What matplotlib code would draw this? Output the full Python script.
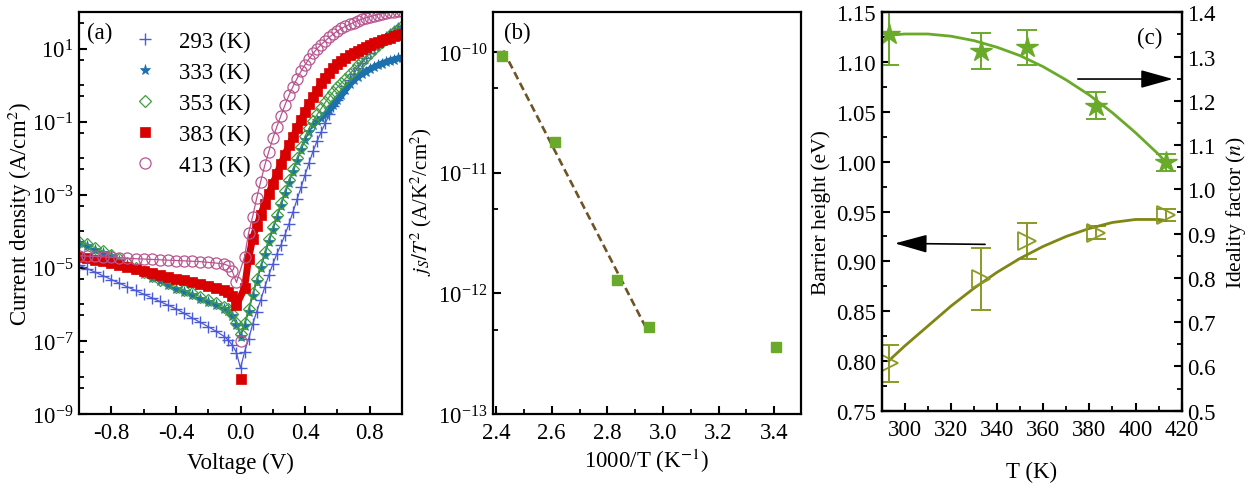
import numpy as np
import matplotlib
matplotlib.use("Agg")
import matplotlib.pyplot as plt
from matplotlib.ticker import (FixedLocator, MultipleLocator, NullFormatter,
                               LogFormatterMathtext)

plt.rcParams.update({
    "font.family": "Liberation Serif",
    "mathtext.fontset": "stix",
    "font.size": 16.5,
    "axes.linewidth": 1.6,
    "xtick.direction": "in", "ytick.direction": "in",
    "xtick.major.size": 6, "ytick.major.size": 6,
    "xtick.minor.size": 3.5, "ytick.minor.size": 3.5,
    "xtick.major.width": 1.5, "ytick.major.width": 1.5,
    "xtick.minor.width": 1.3, "ytick.minor.width": 1.3,
    "xtick.major.pad": 6, "ytick.major.pad": 4,
})

# ---- (a) J-V curves: voltage sweep and log10 of current density (A/cm^2)
V = np.round(np.concatenate([np.arange(-1.0, -0.099, 0.05),
                             [-0.075, -0.05, -0.025, 0.0],
                             np.arange(0.025, 1.0001, 0.025)]), 3)

LOGJ_293 = [-4.93, -5.02, -5.12, -5.22, -5.32, -5.42, -5.52, -5.62, -5.72, -5.82,
            -5.92, -6.02, -6.12, -6.24, -6.37, -6.49, -6.61, -6.74, -6.88,
            -6.98, -7.12, -7.32, -7.75,
            -7.30, -6.95, -6.55, -6.20, -5.88, -5.53, -5.20, -4.90, -4.62, -4.38,
            -4.10, -3.80, -3.47, -3.13, -2.80, -2.45, -2.12, -1.80, -1.52, -1.28,
            -1.04, -0.80, -0.58, -0.40, -0.22, -0.03, 0.14, 0.31, 0.46, 0.60,
            0.74, 0.87, 0.99, 1.11, 1.22, 1.32, 1.41, 1.49, 1.56, 1.62]
LOGJ_333 = [-4.33, -4.41, -4.50, -4.59, -4.69, -4.81, -4.93, -5.05, -5.17, -5.27,
            -5.37, -5.47, -5.57, -5.66, -5.75, -5.84, -5.93, -6.02, -6.12,
            -6.18, -6.31, -6.56, -6.88,
            -6.58, -6.20, -5.78, -5.38, -5.01, -4.65, -4.30, -3.96, -3.63, -3.30,
            -2.98, -2.68, -2.38, -2.08, -1.78, -1.50, -1.28, -1.10, -0.98, -0.90,
            -0.80, -0.68, -0.54, -0.42, -0.28, -0.13, 0.02, 0.13, 0.22, 0.30,
            0.37, 0.43, 0.49, 0.54, 0.59, 0.63, 0.67, 0.70, 0.73, 0.75]
LOGJ_353 = [-4.28, -4.36, -4.45, -4.54, -4.64, -4.76, -4.88, -5.00, -5.12, -5.22,
            -5.32, -5.42, -5.52, -5.61, -5.70, -5.79, -5.88, -5.97, -6.07,
            -6.13, -6.25, -6.50, -6.80,
            -6.50, -6.12, -5.70, -5.30, -4.93, -4.57, -4.22, -3.88, -3.55, -3.22,
            -2.90, -2.60, -2.30, -2.00, -1.70, -1.40, -1.18, -0.98, -0.80, -0.64,
            -0.47, -0.32, -0.18, -0.06, 0.06, 0.18, 0.30, 0.42, 0.54, 0.66,
            0.78, 0.89, 1.00, 1.09, 1.18, 1.27, 1.36, 1.45, 1.54, 1.62]
LOGJ_383 = [-4.70, -4.74, -4.78, -4.82, -4.86, -4.91, -4.97, -5.02, -5.08, -5.13,
            -5.19, -5.24, -5.30, -5.34, -5.39, -5.44, -5.49, -5.54, -5.60,
            -5.66, -5.77, -6.02, -8.03,
            -5.55, -4.75, -4.20, -3.85, -3.55, -3.25, -2.97, -2.70, -2.43, -2.16,
            -1.90, -1.65, -1.42, -1.18, -0.95, -0.73, -0.52, -0.33, -0.15, 0.05,
            0.20, 0.34, 0.47, 0.57, 0.66, 0.74, 0.81, 0.88, 0.94, 1.00,
            1.05, 1.10, 1.14, 1.19, 1.23, 1.27, 1.30, 1.33, 1.36, 1.39]
LOGJ_413 = [-4.67, -4.68, -4.69, -4.70, -4.71, -4.72, -4.74, -4.75, -4.76, -4.77,
            -4.78, -4.79, -4.80, -4.81, -4.82, -4.83, -4.85, -4.87, -4.90,
            -4.94, -5.10, -5.40, -6.99,
            -4.70, -4.05, -3.60, -3.10, -2.64, -2.20, -1.82, -1.46, -1.14, -0.84,
            -0.55, -0.28, -0.04, 0.18, 0.38, 0.56, 0.72, 0.87, 1.00, 1.11,
            1.21, 1.31, 1.40, 1.48, 1.55, 1.61, 1.66, 1.71, 1.76, 1.80,
            1.84, 1.87, 1.90, 1.93, 1.95, 1.97, 1.99, 2.01, 2.02, 2.03]

TEMPS = ["293", "333", "353", "383", "413"]
LOGJ = [LOGJ_293, LOGJ_333, LOGJ_353, LOGJ_383, LOGJ_413]

# ---- (b) Richardson plot
INV_T = [2.421, 2.611, 2.833, 2.949, 3.407]
JS_T2 = [9.3e-11, 1.8e-11, 1.29e-12, 5.3e-13, 3.58e-13]
FIT_INV_T = [2.426, 2.945]
FIT_JS_T2 = [1.03e-10, 4.87e-13]

# ---- (c) barrier height and ideality factor vs temperature
T_K = [293, 333, 353, 383, 413]
PHI_B = [0.7975, 0.882, 0.920, 0.9285, 0.9465]
PHI_B_ERR = [0.0185, 0.031, 0.018, 0.0065, 0.0065]
N_IDEAL = [1.351, 1.313, 1.321, 1.189, 1.061]
N_ERR = [0.07, 0.04, 0.04, 0.03, 0.02]
T_FIT = [293, 300, 310, 320, 330, 340, 350, 360, 370, 380, 390, 400, 410, 413]
PHI_FIT = [0.800, 0.815, 0.835, 0.855, 0.873, 0.889, 0.903, 0.915, 0.925, 0.933,
           0.939, 0.942, 0.942, 0.941]
N_FIT = [1.348, 1.351, 1.351, 1.346, 1.336, 1.321, 1.302, 1.277, 1.247, 1.213,
         1.173, 1.128, 1.079, 1.062]

W, H = 1256, 489
fig = plt.figure(figsize=(W / 100, H / 100), dpi=100)


def box(l, t, r, b):
    return [l / W, 1 - b / H, (r - l) / W, (b - t) / H]


# (a)
ax = fig.add_axes(box(79, 13, 402, 415))
styles = [
    dict(marker="+", color="#4a5ad8", ms=8, mew=1.0),
    dict(marker="*", color="#1b70ad", ms=8, mew=0.5),
    dict(marker="D", color="#3f9c3f", mfc="none", ms=6.5, mew=0.9),
    dict(marker="s", color="#d80000", ms=7, mew=0.5),
    dict(marker="o", color="#b85590", mfc="none", ms=8, mew=0.9),
]
zero = int(np.where(V == 0.0)[0][0])
for temp, lj, st in zip(TEMPS, LOGJ, styles):
    J = 10.0 ** np.asarray(lj)
    keep = np.ones(len(V), bool)
    if temp in ("383", "413"):
        keep[zero] = False  # isolated point at zero bias
    # thin trace joining neighbouring points of the dense sweep
    ax.plot(V[keep], J[keep], color=st["color"], lw=5.0 if temp == "383" else 0.9)
    if temp == "333":
        hi = V >= 0.55  # saturating branch shows as a solid band
        ax.plot(V[hi], J[hi], color=st["color"], lw=4.5)
    ax.plot(V, J, ls="none", label=f"{temp} (K)", **st)
ax.set_yscale("log")
ax.set_xlim(-1.0, 1.0)
ax.set_ylim(1e-9, 1e2)
ax.yaxis.set_major_locator(FixedLocator([1e-9, 1e-7, 1e-5, 1e-3, 1e-1, 1e1]))
ax.yaxis.set_major_formatter(LogFormatterMathtext())
minors = [m * 10.0 ** e for e in range(-9, 2) for m in (5, 10) if m * 10.0 ** e <= 100]
minors = [v for v in minors if not any(abs(np.log10(v) - k) < 1e-6 for k in (-9, -7, -5, -3, -1, 1))]
ax.yaxis.set_minor_locator(FixedLocator(minors))
ax.yaxis.set_minor_formatter(NullFormatter())
ax.xaxis.set_major_locator(FixedLocator([-0.8, -0.4, 0.0, 0.4, 0.8]))
ax.xaxis.set_minor_locator(MultipleLocator(0.2))
ax.xaxis.set_major_formatter(plt.FuncFormatter(lambda v, p: f"{v:.1f}".replace("-0.0", "0.0")))
ax.set_xlabel("Voltage (V)", fontsize=16.5)
ax.set_ylabel("Current density (A/cm$^2$)", fontsize=16.5)
ax.xaxis.set_label_coords(0.5, -0.095)
ax.yaxis.set_label_coords(-0.14, 0.5)
ax.text(0.065, 0.95, "(a)", transform=ax.transAxes, ha="center", va="center", fontsize=16.5)
ax.legend(loc="upper left", bbox_to_anchor=(0.17, 0.952), frameon=False, numpoints=1,
          handlelength=1.0, handletextpad=0.95, labelspacing=0.42, borderpad=0,
          borderaxespad=0, fontsize=16.5)

# (b)
bx = fig.add_axes(box(492.7, 13, 800.7, 415))
bx.plot(FIT_INV_T, FIT_JS_T2, color="#6e5424", lw=1.9, dashes=(3, 1.6))
bx.plot(INV_T, JS_T2, ls="none", marker="s", ms=6.5, color="#6aaa2a", mec="#6aaa2a")
bx.set_yscale("log")
bx.set_xlim(2.388, 3.495)
bx.set_ylim(1e-13, 2.15e-10)
bx.yaxis.set_major_locator(FixedLocator([1e-13, 1e-12, 1e-11, 1e-10]))
bx.yaxis.set_major_formatter(LogFormatterMathtext())
bx.yaxis.set_minor_locator(FixedLocator([5e-13, 5e-12, 5e-11]))
bx.yaxis.set_minor_formatter(NullFormatter())
bx.xaxis.set_major_locator(MultipleLocator(0.2))
bx.xaxis.set_minor_locator(MultipleLocator(0.1))
bx.xaxis.set_major_formatter(plt.FuncFormatter(lambda v, p: f"{v:.1f}"))
bx.set_xlabel("1000/T (K$^{-1}$)", fontsize=16.5)
bx.set_ylabel(r"$j_S/T^2$ (A/K$^2$/cm$^2$)", fontsize=15)
bx.xaxis.set_label_coords(0.5, -0.08)
bx.yaxis.set_label_coords(-0.19, 0.53)
bx.text(0.08, 0.95, "(b)", transform=bx.transAxes, ha="center", va="center", fontsize=16.5)

# (c)
cx = fig.add_axes(box(881.7, 13.3, 1181.7, 411.7))
cx2 = cx.twinx()
OLIVE = "#8a9a22"
GREEN = "#6aaa2a"
cx.errorbar(T_K, PHI_B, yerr=PHI_B_ERR, fmt="none", ecolor=OLIVE, elinewidth=1.4,
            capsize=7, capthick=1.4)
cx.plot(T_FIT, PHI_FIT, color="#7f8614", lw=2.0)
cx.plot(T_K, PHI_B, ls="none", marker=">", ms=13, mfc="none", mec=OLIVE, mew=1.3)
cx2.errorbar(T_K, N_IDEAL, yerr=N_ERR, fmt="none", ecolor=GREEN, elinewidth=1.4,
             capsize=7, capthick=1.4)
cx2.plot(T_FIT, N_FIT, color=GREEN, lw=2.0)
cx2.plot(T_K, N_IDEAL, ls="none", marker="*", ms=16, color=GREEN, mec=GREEN)
cx.set_xlim(290, 420)
cx.set_ylim(0.75, 1.15)
cx2.set_ylim(0.5, 1.4)
cx.xaxis.set_major_locator(MultipleLocator(20))
cx.xaxis.set_minor_locator(MultipleLocator(10))
cx.yaxis.set_major_locator(MultipleLocator(0.05))
cx.yaxis.set_minor_locator(MultipleLocator(0.025))
cx.yaxis.set_major_formatter(plt.FuncFormatter(lambda v, p: f"{v:.2f}"))
cx2.yaxis.set_major_locator(MultipleLocator(0.1))
cx2.yaxis.set_minor_locator(MultipleLocator(0.05))
cx2.yaxis.set_major_formatter(plt.FuncFormatter(lambda v, p: f"{v:.1f}"))
cx.set_xlabel("T (K)", fontsize=16.5)
cx.set_ylabel("Barrier height (eV)", fontsize=15.5)
cx2.set_ylabel(r"Ideality factor ($n$)", fontsize=15.5)
cx.xaxis.set_label_coords(0.5, -0.125)
cx.yaxis.set_label_coords(-0.17, 0.5)
cx2.yaxis.set_label_coords(1.14, 0.5)
cx.text(0.894, 0.938, "(c)", transform=cx.transAxes, ha="center", va="center", fontsize=16.5)
arrow = dict(arrowstyle="-|>,head_length=1.0,head_width=0.28", color="k", lw=1.2,
             mutation_scale=20, shrinkA=0, shrinkB=0)
cx.annotate("", xy=(416.2, 1.083), xytext=(375, 1.083), arrowprops=arrow)
cx.annotate("", xy=(295.7, 0.918), xytext=(334.8, 0.917), arrowprops=arrow)

fig.savefig("out.png", dpi=100)
